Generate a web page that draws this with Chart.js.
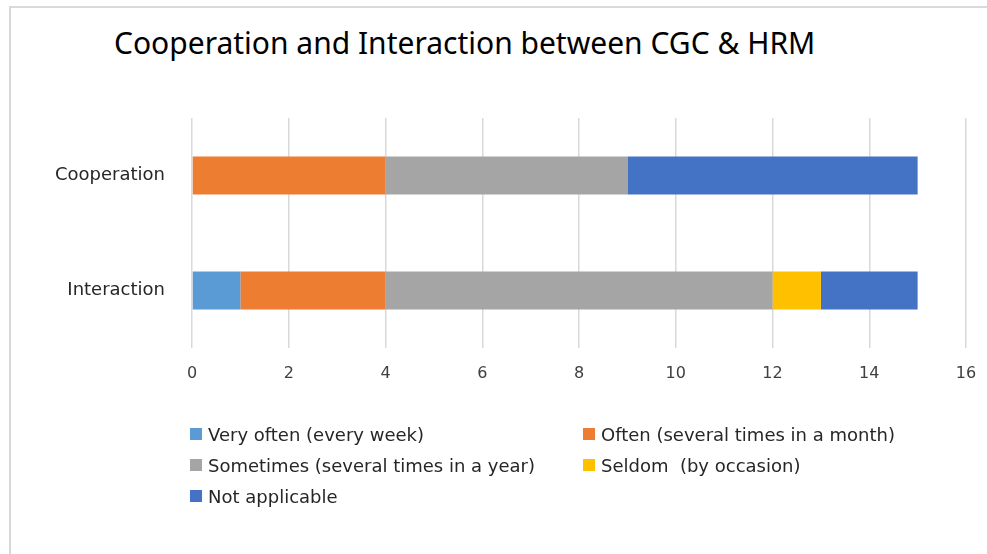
<!DOCTYPE html>
<html>
<head>
<meta charset="utf-8">
<script src="https://cdn.jsdelivr.net/npm/chart.js@4"></script>
<style>
  html, body { margin: 0; padding: 0; background: #fff; }
  body { width: 987px; height: 554px; position: relative; overflow: hidden; font-family: 'DejaVu Sans', sans-serif; }
  .frame { position: absolute; left: 9px; top: 6px; width: 1000px; height: 600px;
           border-left: 2px solid #d9d9d9; border-top: 2px solid #d9d9d9; }
  .title { position: absolute; left: 114px; top: 22px; font-family: 'Noto Sans', sans-serif;
           font-size: 30px; color: #000; white-space: nowrap; }
  canvas { position: absolute; left: 0; top: 0; }
  .legend { position: absolute; left: 190px; top: 422px; display: grid;
            grid-template-columns: 393px 340px; row-gap: 7px; font-size: 18px; color: #262626; }
  .legend span.item { display: flex; align-items: center; height: 24px; white-space: pre; }
  .legend i { display: inline-block; width: 12px; height: 12px; margin-right: 6px; }
</style>
</head>
<body>
<div class="frame"></div>
<div class="title">Cooperation and Interaction between CGC &amp; HRM</div>
<canvas id="c" width="987" height="554"></canvas>
<div class="legend" id="legend"></div>
<script>
// Dados do gráfico
const categorias = ['Cooperation', 'Interaction'];
const series = ['Very often (every week)', 'Often (several times in a month)',
                'Sometimes (several times in a year)', 'Seldom  (by occasion)', 'Not applicable'];
const veryOften  = [0, 1];
const often      = [4, 3];
const sometimes  = [5, 8];
const seldom     = [0, 1];
const notApplic  = [6, 2];
const xTicks     = [0, 2, 4, 6, 8, 10, 12, 14, 16];

const cores = ['#5B9BD5', '#ED7D31', '#A5A5A5', '#FFC000', '#4472C4'];
const valores = [veryOften, often, sometimes, seldom, notApplic];

const datasets = series.map((nome, i) => ({
  label: nome,
  data: valores[i],
  backgroundColor: cores[i],
  borderWidth: 0,
  categoryPercentage: 1,
  barPercentage: 0.33
}));

const fonte = "'DejaVu Sans', sans-serif";

new Chart(document.getElementById('c'), {
  type: 'bar',
  data: { labels: categorias, datasets },
  options: {
    indexAxis: 'y',
    responsive: false,
    animation: false,
    layout: { padding: { left: 0, right: 21, top: 118, bottom: 146 } },
    plugins: { legend: { display: false }, title: { display: false }, tooltip: { enabled: false } },
    scales: {
      x: {
        stacked: true,
        min: 0, max: 16,
        afterBuildTicks: (s) => { s.ticks = xTicks.map(v => ({ value: v })); },
        // sem margem extra para o rótulo "16"
        afterFit: (s) => { s.height = 60; s.paddingLeft = 0; s.paddingRight = 0; },
        grid: { color: '#d9d9d9', lineWidth: 1.5, drawTicks: false },
        border: { display: false },
        ticks: { color: '#404040', padding: 16, font: { family: fonte, size: 16 } }
      },
      y: {
        stacked: true,
        afterFit: (s) => { s.width = 192; },
        grid: { display: false, drawTicks: false },
        border: { display: false },
        ticks: { color: '#262626', padding: 27, font: { family: fonte, size: 18 } }
      }
    }
  }
});

// Legenda em HTML, duas colunas
const leg = document.getElementById('legend');
series.forEach((nome, i) => {
  const el = document.createElement('span');
  el.className = 'item';
  el.innerHTML = `<i style="background:${cores[i]}"></i>${nome}`;
  leg.appendChild(el);
});
</script>
</body>
</html>
